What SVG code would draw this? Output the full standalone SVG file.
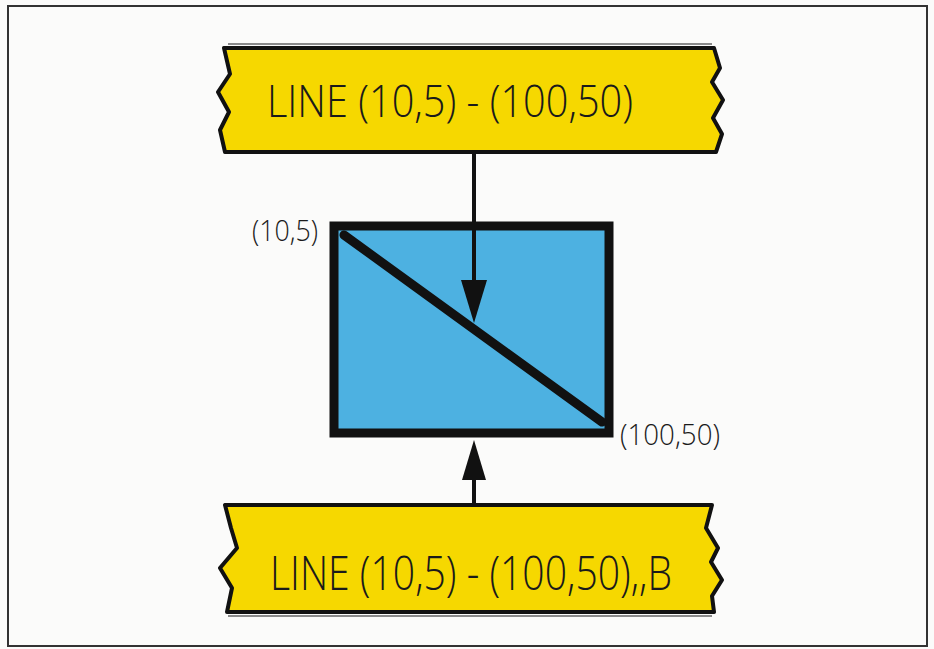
<svg xmlns="http://www.w3.org/2000/svg" width="934" height="649" viewBox="0 0 934 649">
<style>
.banner{fill:#f6d800;stroke:#111;stroke-width:4;stroke-linejoin:round}
.shadow{stroke:#8a8a8a;stroke-width:2;fill:none}
.lbl{font-family:"Open Sans","DejaVu Sans",sans-serif;font-weight:300;fill:#1a1a1a}
.conn{stroke:#111;stroke-width:4;fill:none}
.head{fill:#111}
</style>
<rect x="0" y="0" width="934" height="649" fill="#fbfbfa"/>
<rect x="8" y="6" width="919" height="640" fill="none" stroke="#333" stroke-width="2"/>
<g id="top-banner">
<line class="shadow" x1="228" y1="44" x2="712" y2="44"/>
<path class="banner" d="M224,48 L714,48 L720,68 L712,82 L723,100 L713,118 L722,134 L716,152 L225,152 L220,130 L229,112 L218,92 L230,74 Z"/>
<text class="lbl" x="267" y="117" font-size="45" textLength="366" lengthAdjust="spacingAndGlyphs">LINE (10,5) - (100,50)</text>
</g>
<g id="screen">
<rect x="334" y="226" width="275" height="207" fill="#4db1e1" stroke="#111" stroke-width="9"/>
<line x1="344" y1="235" x2="602" y2="422" stroke="#111" stroke-width="9" stroke-linecap="round"/>
<text class="lbl" x="252" y="241" font-size="30" textLength="66" lengthAdjust="spacingAndGlyphs">(10,5)</text>
<text class="lbl" x="620" y="445" font-size="30" textLength="100" lengthAdjust="spacingAndGlyphs">(100,50)</text>
</g>
<g id="bottom-banner">
<path class="banner" d="M225,505 L712,505 L706,528 L718,548 L711,562 L722,580 L712,596 L714,612 L227,612 L232,588 L220,568 L237,548 L231,528 Z"/>
<line class="shadow" x1="228" y1="616" x2="712" y2="616"/>
<text class="lbl" x="270" y="590" font-size="47" textLength="402" lengthAdjust="spacingAndGlyphs">LINE (10,5) - (100,50),,B</text>
</g>
<g id="connectors">
<line class="conn" x1="474" y1="152" x2="474" y2="284"/>
<polygon class="head" points="461,280 487,280 474,323"/>
<line class="conn" x1="474" y1="505" x2="474" y2="476"/>
<polygon class="head" points="462,480 486,480 474,440"/>
</g>
</svg>
